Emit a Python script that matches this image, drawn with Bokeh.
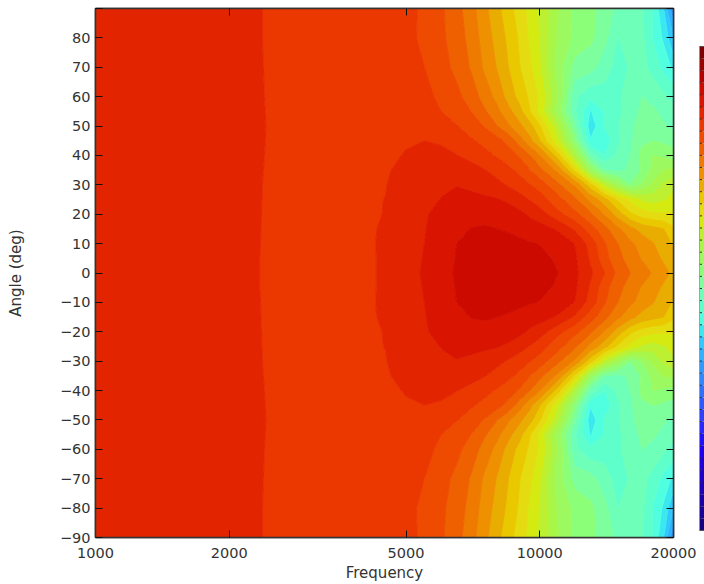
import numpy as np
from bokeh.embed import file_html
from bokeh.layouts import row
from bokeh.resources import INLINE
from bokeh.plotting import figure
from bokeh.models import FixedTicker, LinearAxis, LogAxis, Range1d

freqs = [1000, 2000, 2400, 3000, 3500, 4000, 4500, 5000, 5500, 6000, 6500, 7000, 7500, 8000,
         8500, 9000, 9500, 10000, 11000, 12000, 13000, 14000, 15000, 16000, 17000, 18000, 19000, 20000]
angles_upper = [0, 5, 10, 15, 20, 25, 30, 35, 40, 45, 50, 55, 60, 70, 80, 90]

# level below the top of the colour scale, per angle
a0 = [5.45, 5.7, 6.05, 6.3, 6.25, 6.2, 5.85, 5.3, 4.9, 4.3, 3.9, 3.6, 3.45, 3.4, 3.45, 3.5, 3.65, 3.75, 4.0, 4.8, 5.8, 7.0, 8.3, 9.0, 9.5, 10.1, 10.7, 11.2]
a5 = [5.45, 5.7, 6.05, 6.3, 6.25, 6.2, 5.85, 5.35, 4.95, 4.4, 3.95, 3.65, 3.5, 3.45, 3.5, 3.6, 3.72, 3.82, 4.1, 4.85, 6.15, 7.65, 8.7, 9.45, 10.1, 10.65, 11.15, 11.6]
a10 = [5.45, 5.7, 6.04, 6.3, 6.25, 6.18, 5.85, 5.4, 5.0, 4.5, 4.0, 3.7, 3.6, 3.55, 3.6, 3.75, 3.92, 4.03, 4.3, 5.05, 6.4, 7.9, 9.0, 9.8, 10.4, 10.95, 11.6, 12.1]
a15 = [5.45, 5.7, 6.035, 6.3, 6.25, 6.15, 5.9, 5.4, 5.05, 4.6, 4.2, 3.98, 3.92, 3.99, 4.15, 4.35, 4.55, 4.6, 5.15, 6.15, 7.5, 8.7, 9.8, 10.7, 11.4, 11.7, 12.0, 12.8]
a20 = [5.45, 5.7, 6.03, 6.3, 6.2, 6.1, 5.98, 5.4, 5.1, 4.7, 4.5, 4.3, 4.25, 4.3, 4.45, 4.75, 5.15, 5.55, 6.7, 7.7, 8.8, 10.1, 11.5, 12.8, 13.5, 13.8, 13.9, 13.9]
a25 = [5.45, 5.7, 6.025, 6.3, 6.2, 6.08, 5.99, 5.5, 5.15, 4.98, 4.8, 4.75, 4.8, 4.93, 5.2, 5.6, 6.05, 6.5, 7.65, 8.8, 10.25, 11.65, 13.2, 14.3, 15.2, 15.5, 15.1, 14.7]
a30 = [5.45, 5.7, 6.02, 6.3, 6.2, 6.1, 6.02, 5.7, 5.3, 5.1, 5.03, 5.2, 5.5, 5.75, 6.1, 6.5, 6.95, 7.45, 8.8, 10.2, 12.6, 15.4, 17.3, 19.0, 17.9, 16.8, 15.8, 15.2]
a35 = [5.45, 5.7, 6.01, 6.3, 6.25, 6.15, 6.07, 5.8, 5.5, 5.4, 5.5, 5.7, 5.95, 6.3, 6.75, 7.25, 7.95, 8.7, 10.3, 13.25, 17.5, 20.0, 20.3, 19.8, 18.9, 17.7, 17.0, 16.8]
a40 = [5.45, 5.7, 6.0, 6.3, 6.3, 6.3, 6.15, 5.95, 5.7, 5.8, 5.97, 6.25, 6.65, 7.1, 7.5, 8.1, 8.95, 9.95, 12.55, 16.35, 20.4, 22.0, 20.7, 20.0, 18.7, 18.0, 18.2, 18.5]
a45 = [5.45, 5.7, 5.995, 6.3, 6.35, 6.35, 6.2, 6.08, 6.0, 6.1, 6.4, 6.85, 7.3, 7.6, 8.3, 9.5, 10.7, 11.95, 14.95, 18.6, 22.9, 22.7, 21.2, 20.2, 19.2, 19.0, 19.2, 19.5]
a50 = [5.45, 5.7, 5.99, 6.3, 6.4, 6.4, 6.3, 6.25, 6.3, 6.5, 6.95, 7.5, 8.05, 8.95, 9.85, 10.75, 11.65, 12.9, 15.95, 19.85, 23.7, 21.9, 21.1, 20.2, 19.55, 19.4, 19.85, 20.3]
a55 = [5.45, 5.7, 5.995, 6.3, 6.4, 6.5, 6.55, 6.55, 6.55, 7.0, 7.5, 8.0, 8.85, 9.7, 10.7, 11.65, 12.95, 14.35, 17.55, 20.9, 23.1, 21.9, 21.2, 20.5, 19.75, 19.85, 20.3, 20.8]
a60 = [5.45, 5.7, 6.0, 6.3, 6.4, 6.6, 6.75, 6.85, 6.75, 7.2, 7.75, 8.45, 9.4, 10.3, 11.4, 12.35, 13.2, 14.2, 17.15, 20.8, 21.8, 21.4, 21.1, 20.7, 20.0, 20.3, 20.8, 21.3]
a70 = [5.45, 5.7, 6.01, 6.3, 6.4, 6.5, 6.6, 6.8, 7.0, 7.65, 8.25, 9.1, 10.15, 11.05, 12.0, 12.95, 13.8, 14.9, 17.55, 19.4, 19.6, 20.6, 21.4, 20.9, 20.7, 21.4, 22.3, 23.3]
a80 = [5.45, 5.7, 6.02, 6.3, 6.3, 6.4, 6.55, 6.75, 7.2, 7.8, 8.5, 9.35, 10.45, 11.35, 12.25, 13.15, 14.2, 15.1, 17.2, 18.3, 18.8, 19.7, 21.05, 20.4, 20.8, 22.1, 23.2, 25.0]
a90 = [5.45, 5.7, 6.02, 6.3, 6.3, 6.4, 6.5, 6.7, 7.2, 7.85, 8.65, 9.6, 10.7, 11.7, 12.6, 13.5, 14.35, 15.2, 17.0, 18.3, 18.7, 19.5, 20.25, 20.6, 20.9, 22.1, 24.0, 27.0]

band_colors = ["#7f0000", "#990000", "#b30000", "#cc0a00", "#d91400", "#e32400", "#eb3700", "#ee4b00",
               "#ee6000", "#ee7a00", "#ee9000", "#e9ac00", "#eac800", "#e4dc10", "#d4ea10", "#bcf030",
               "#a8f648", "#9cfa60", "#8cff78", "#7cff9c", "#6effb8", "#5fffcb", "#50ffe0", "#3ce8f0",
               "#30c8ff", "#30b0ff", "#3098ff", "#3088ff", "#3070ff", "#3058ff", "#3040ff", "#2a28ff",
               "#2010ff", "#2000f0", "#2000d8", "#2000c8", "#2000b8", "#1a00a8", "#180098", "#150080"]
x_ticks = [1000, 2000, 5000, 10000, 20000]
y_ticks = list(range(-90, 91, 10))

upper = np.array([a0, a5, a10, a15, a20, a25, a30, a35, a40, a45, a50, a55, a60, a70, a80, a90], dtype=float)
grid = -np.vstack([upper[:0:-1], upper])
angles = [-a for a in angles_upper[:0:-1]] + angles_upper

levels = list(range(-40, 1))
fills = band_colors[::-1]
lines = fills + [fills[-1]]
font = "DejaVu Sans"

p = figure(width=699, height=584, x_axis_type="log", x_range=Range1d(1000, 20000), y_range=Range1d(-90, 90),
           output_backend="svg", toolbar_location=None, min_border_left=95, min_border_top=8,
           min_border_right=26, min_border_bottom=47, frame_width=578, frame_height=529,
           outline_line_color="#333333", outline_line_width=1.5)
p.grid.visible = False
p.contour(freqs, angles, grid, levels, fill_color=fills, line_color=lines, line_width=1)


def style(ax):
    ax.major_tick_in = 7
    ax.major_tick_out = 0
    ax.minor_tick_in = 0
    ax.minor_tick_out = 0
    ax.major_tick_line_color = "#111111"
    ax.major_tick_line_width = 1
    ax.axis_line_color = "#333333"
    ax.axis_line_width = 1.5
    ax.major_label_text_font = font
    ax.major_label_text_font_size = "14.5px"
    ax.major_label_text_color = "#333333"
    ax.axis_label_text_font = font
    ax.axis_label_text_font_size = "15px"
    ax.axis_label_text_font_style = "normal"
    ax.axis_label_text_color = "#333333"


xa = p.xaxis[0]
xa.ticker = FixedTicker(ticks=x_ticks)
xa.major_label_overrides = {t: str(t) for t in x_ticks}
xa.axis_label = "Frequency"
xa.major_label_standoff = 10
xa.axis_label_standoff = 3
style(xa)

ya = p.yaxis[0]
ya.ticker = FixedTicker(ticks=y_ticks)
ya.major_label_overrides = {90: ""}
ya.axis_label = "Angle (deg)"
ya.major_label_standoff = 5
ya.axis_label_standoff = 32
style(ya)

top = LogAxis(ticker=FixedTicker(ticks=x_ticks))
style(top)
top.major_label_text_color = None
top.major_label_text_font_size = "0px"
top.major_label_standoff = 0
p.add_layout(top, "above")

right = LinearAxis(ticker=FixedTicker(ticks=y_ticks))
style(right)
right.major_label_text_color = None
right.major_label_text_font_size = "0px"
right.major_label_standoff = 0
p.add_layout(right, "right")

# colour scale: a narrow figure beside the plot, cut by the window edge as in the reference
q = figure(width=5, height=584, x_range=Range1d(0, 5), y_range=Range1d(-40.58, 3.14), output_backend="svg",
           toolbar_location=None, min_border_left=0, min_border_right=0, min_border_top=8, min_border_bottom=47,
           frame_width=5, frame_height=529, x_axis_location=None, y_axis_location=None,
           outline_line_color=None)
q.grid.visible = False
q.quad(left=0, right=14, bottom=levels[:-1], top=levels[1:], fill_color=fills, line_color=None)
q.segment(x0=0, x1=2.5, y0=levels, y1=levels, line_color="#333333", line_width=1)
q.quad(left=[0], right=[14], bottom=[levels[0]], top=[levels[-1]], fill_color=None, line_color="#555555", line_width=1)

open("out.html", "w").write(file_html(row(p, q, spacing=0), INLINE))
